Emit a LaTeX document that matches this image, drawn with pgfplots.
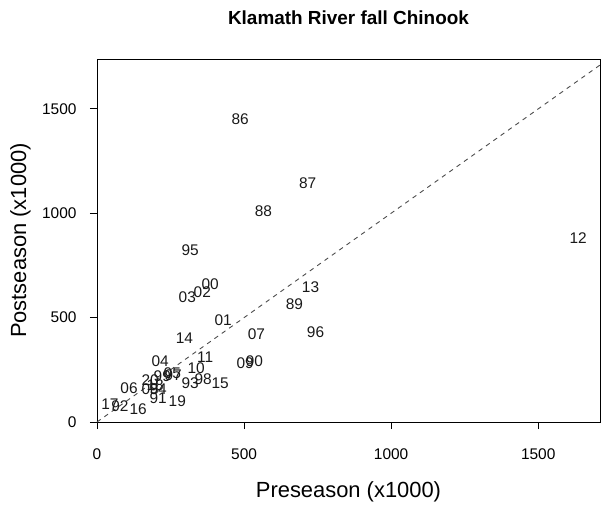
\documentclass[border=0pt]{standalone}
\usepackage{fontspec}
\setmainfont{Liberation Sans}
\usepackage{pgfplots}
\pgfplotsset{compat=1.18}
\begin{document}
\begin{tikzpicture}
\useasboundingbox (-97bp,-91bp) rectangle (508bp,422bp);
\begin{axis}[
  at={(0,0)}, anchor=south west,
  scale only axis, width=503bp, height=363bp,
  xmin=0, xmax=1710, ymin=0, ymax=1739,
  xtick={0,500,1000,1500}, ytick={0,500,1000,1500},
  tick pos=left, tick align=outside,
  major tick length=7bp,
  axis line style={line width=0.9bp},
  every tick/.style={black, line width=0.9bp},
  /pgf/number format/assume math mode=true,
  /pgf/number format/1000 sep={},
  scaled ticks=false,
  ticklabel style={font=\fontsize{15.5}{17}\selectfont},
  xticklabel style={yshift=-16bp},
  yticklabel style={xshift=-10bp},
  title={\textbf{Klamath River fall Chinook}},
  title style={at={(axis description cs:0.5,1.096)}, anchor=center,
    yshift=0pt, font=\fontsize{19}{22}\selectfont},
  xlabel={Preseason (x1000)},
  xlabel style={at={(axis description cs:0.5,-0.193)}, anchor=center,
    font=\fontsize{22}{25}\selectfont},
  ylabel={Postseason (x1000)},
  ylabel style={at={(axis description cs:-0.152,0.5)}, anchor=center,
    font=\fontsize{22}{25}\selectfont},
  clip=false,
]
% 1:1 line
\addplot[gray!60!black, line width=0.9bp, dash pattern=on 4.5bp off 4.5bp]
  coordinates {(0,0) (1710,1710)};
% year labels at (preseason, postseason)
\addplot[only marks, mark=none,
  nodes near coords, point meta=explicit symbolic,
  every node near coord/.append style={anchor=center, inner sep=0pt,
    font=\fontsize{15.5}{17}\selectfont, text=black!90}]
  table[meta=label] {
x y label
487 1452 86
716 1142 87
566 1008 88
671 564 89
535 291 90
208 115 91
78 76 92
317 186 93
208 158 94
317 822 95
743 430 96
259 225 97
361 205 98
222 220 99
385 659 00
429 487 01
358 621 02
307 597 03
215 291 04
256 234 05
109 162 06
542 420 07
181 158 08
504 282 09
337 258 10
368 311 11
1636 879 12
726 645 13
297 401 14
419 186 15
140 62 16
44 86 17
198 177 18
273 100 19
181 201 20
};
\end{axis}
\end{tikzpicture}
\end{document}
